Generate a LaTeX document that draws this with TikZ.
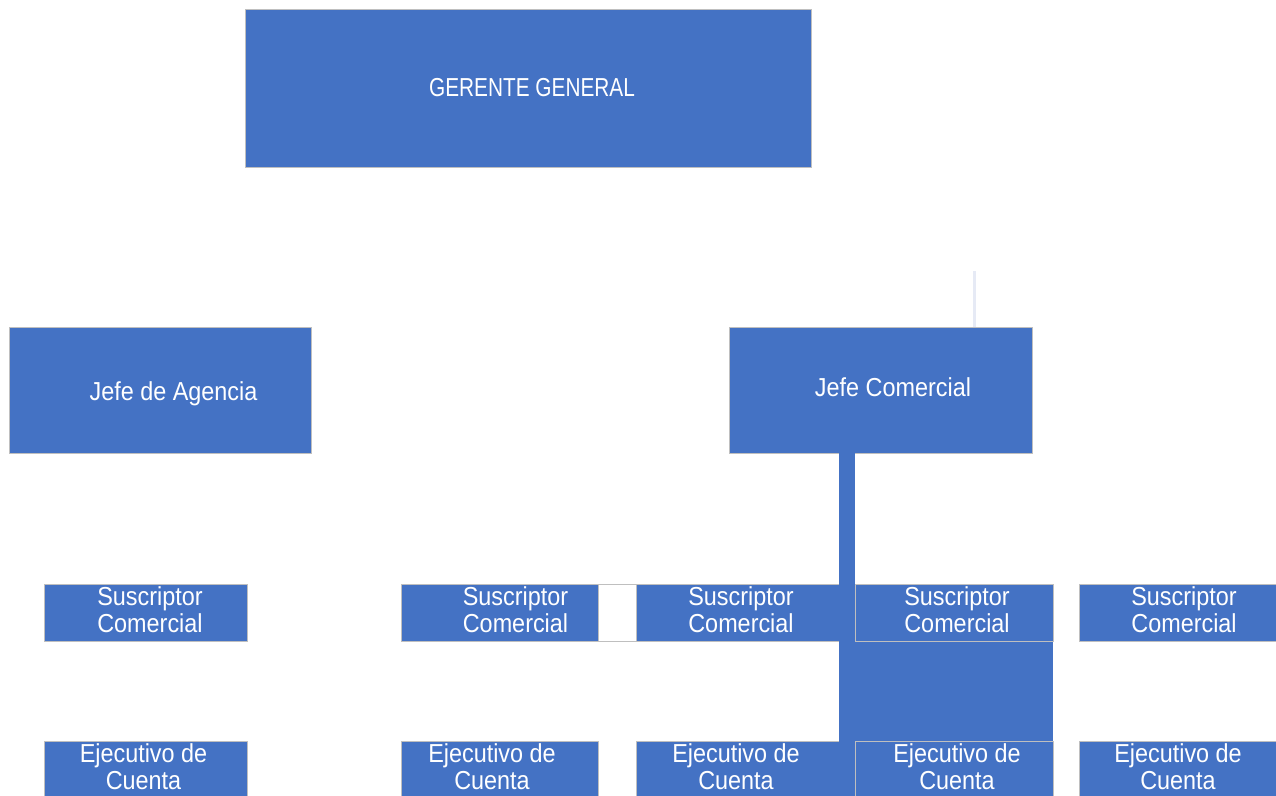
\documentclass[tikz,border=0pt]{standalone}
\usepackage{fontspec}
\newfontfamily\boxfont{Liberation Sans}[FakeStretch=0.9]
\newfontfamily\ggfont{Liberation Sans}[FakeStretch=0.8]
\definecolor{accblue}{HTML}{4472C4}
\definecolor{edgegray}{HTML}{BFBFBF}
\definecolor{faint}{HTML}{E6EAF5}
\tikzset{
  box/.style={draw=edgegray, line width=0.9pt, fill=accblue, inner sep=0pt, outer sep=0pt},
  blank/.style={draw=edgegray, line width=0.9pt, fill=white, inner sep=0pt, outer sep=0pt},
  solid block/.style={fill=accblue, draw=none, inner sep=0pt, outer sep=0pt},
  txt/.style={text=white, font=\boxfont\fontsize{26}{27}\selectfont, align=center, inner sep=0pt},
  ggtxt/.style={text=white, font=\ggfont\fontsize{26}{27}\selectfont, inner sep=0pt},
  bar/.style={draw=accblue, line width=16pt},
  faintline/.style={draw=faint, line width=3pt}
}
\begin{document}
\begin{tikzpicture}[x=1pt, y=-1pt]
\useasboundingbox (0,0) rectangle (1276,795);
% top level
\node[box, minimum width=566pt, minimum height=158pt] (gg) at (528,88) {};
\node[ggtxt, anchor=base] (ggt) at (532,96) {GERENTE GENERAL};
% second level
\node[box, minimum width=302pt, minimum height=126pt] (ja) at (160,390) {};
\node[txt, anchor=base] (jat) at (173.5,400) {Jefe de Agencia};
\node[box, minimum width=303pt, minimum height=126pt] (jc) at (880.5,390) {};
\node[txt, anchor=base] (jct) at (893,396) {Jefe Comercial};
% faint line above Jefe Comercial
\coordinate (fl) at (974,271);
\draw[faintline] (fl) -- (fl |- jc.north);
% suscriptor row
\node[box, minimum width=203pt, minimum height=57pt] (s1) at (145.5,612.5) {};
\node[box, minimum width=197pt, minimum height=57pt] (s2) at (499.5,612.5) {};
\node[blank, minimum width=38pt, minimum height=57pt] (sw) at (617,612.5) {};
\node[box, minimum width=203pt, minimum height=57pt] (s3) at (737.5,612.5) {};
\node[box, minimum width=198pt, minimum height=57pt] (s4) at (954,612.5) {};
\node[box, minimum width=197pt, minimum height=57pt] (s5) at (1177.5,612.5) {};
% solid block under s4
\node[solid block, minimum width=198pt, minimum height=100pt] (blk) at (954,691.5) {};
% ejecutivo row
\node[box, minimum width=203pt, minimum height=57pt] (e1) at (145.5,769.5) {};
\node[box, minimum width=197pt, minimum height=57pt] (e2) at (499.5,769.5) {};
\node[box, minimum width=203pt, minimum height=57pt] (e3) at (737.5,769.5) {};
\node[box, minimum width=198pt, minimum height=57pt] (e4) at (954,769.5) {};
\node[box, minimum width=197pt, minimum height=57pt] (e5) at (1177.5,769.5) {};
% bar from Jefe Comercial
\coordinate (bartop) at (847,453);
\coordinate (barbot) at (847,800);
\draw[bar] (bartop) -- (barbot);
% texts
\node[txt] (s1t) at (150,610) {Suscriptor\\Comercial};
\node[txt] (s2t) at (515.5,610) {Suscriptor\\Comercial};
\node[txt] (s3t) at (741,610) {Suscriptor\\Comercial};
\node[txt] (s4t) at (957,610) {Suscriptor\\Comercial};
\node[txt] (s5t) at (1184,610) {Suscriptor\\Comercial};
\node[txt] (e1t) at (143.5,767) {Ejecutivo de\\Cuenta};
\node[txt] (e2t) at (492,767) {Ejecutivo de\\Cuenta};
\node[txt] (e3t) at (736,767) {Ejecutivo de\\Cuenta};
\node[txt] (e4t) at (957,767) {Ejecutivo de\\Cuenta};
\node[txt] (e5t) at (1178,767) {Ejecutivo de\\Cuenta};
\end{tikzpicture}
\end{document}
